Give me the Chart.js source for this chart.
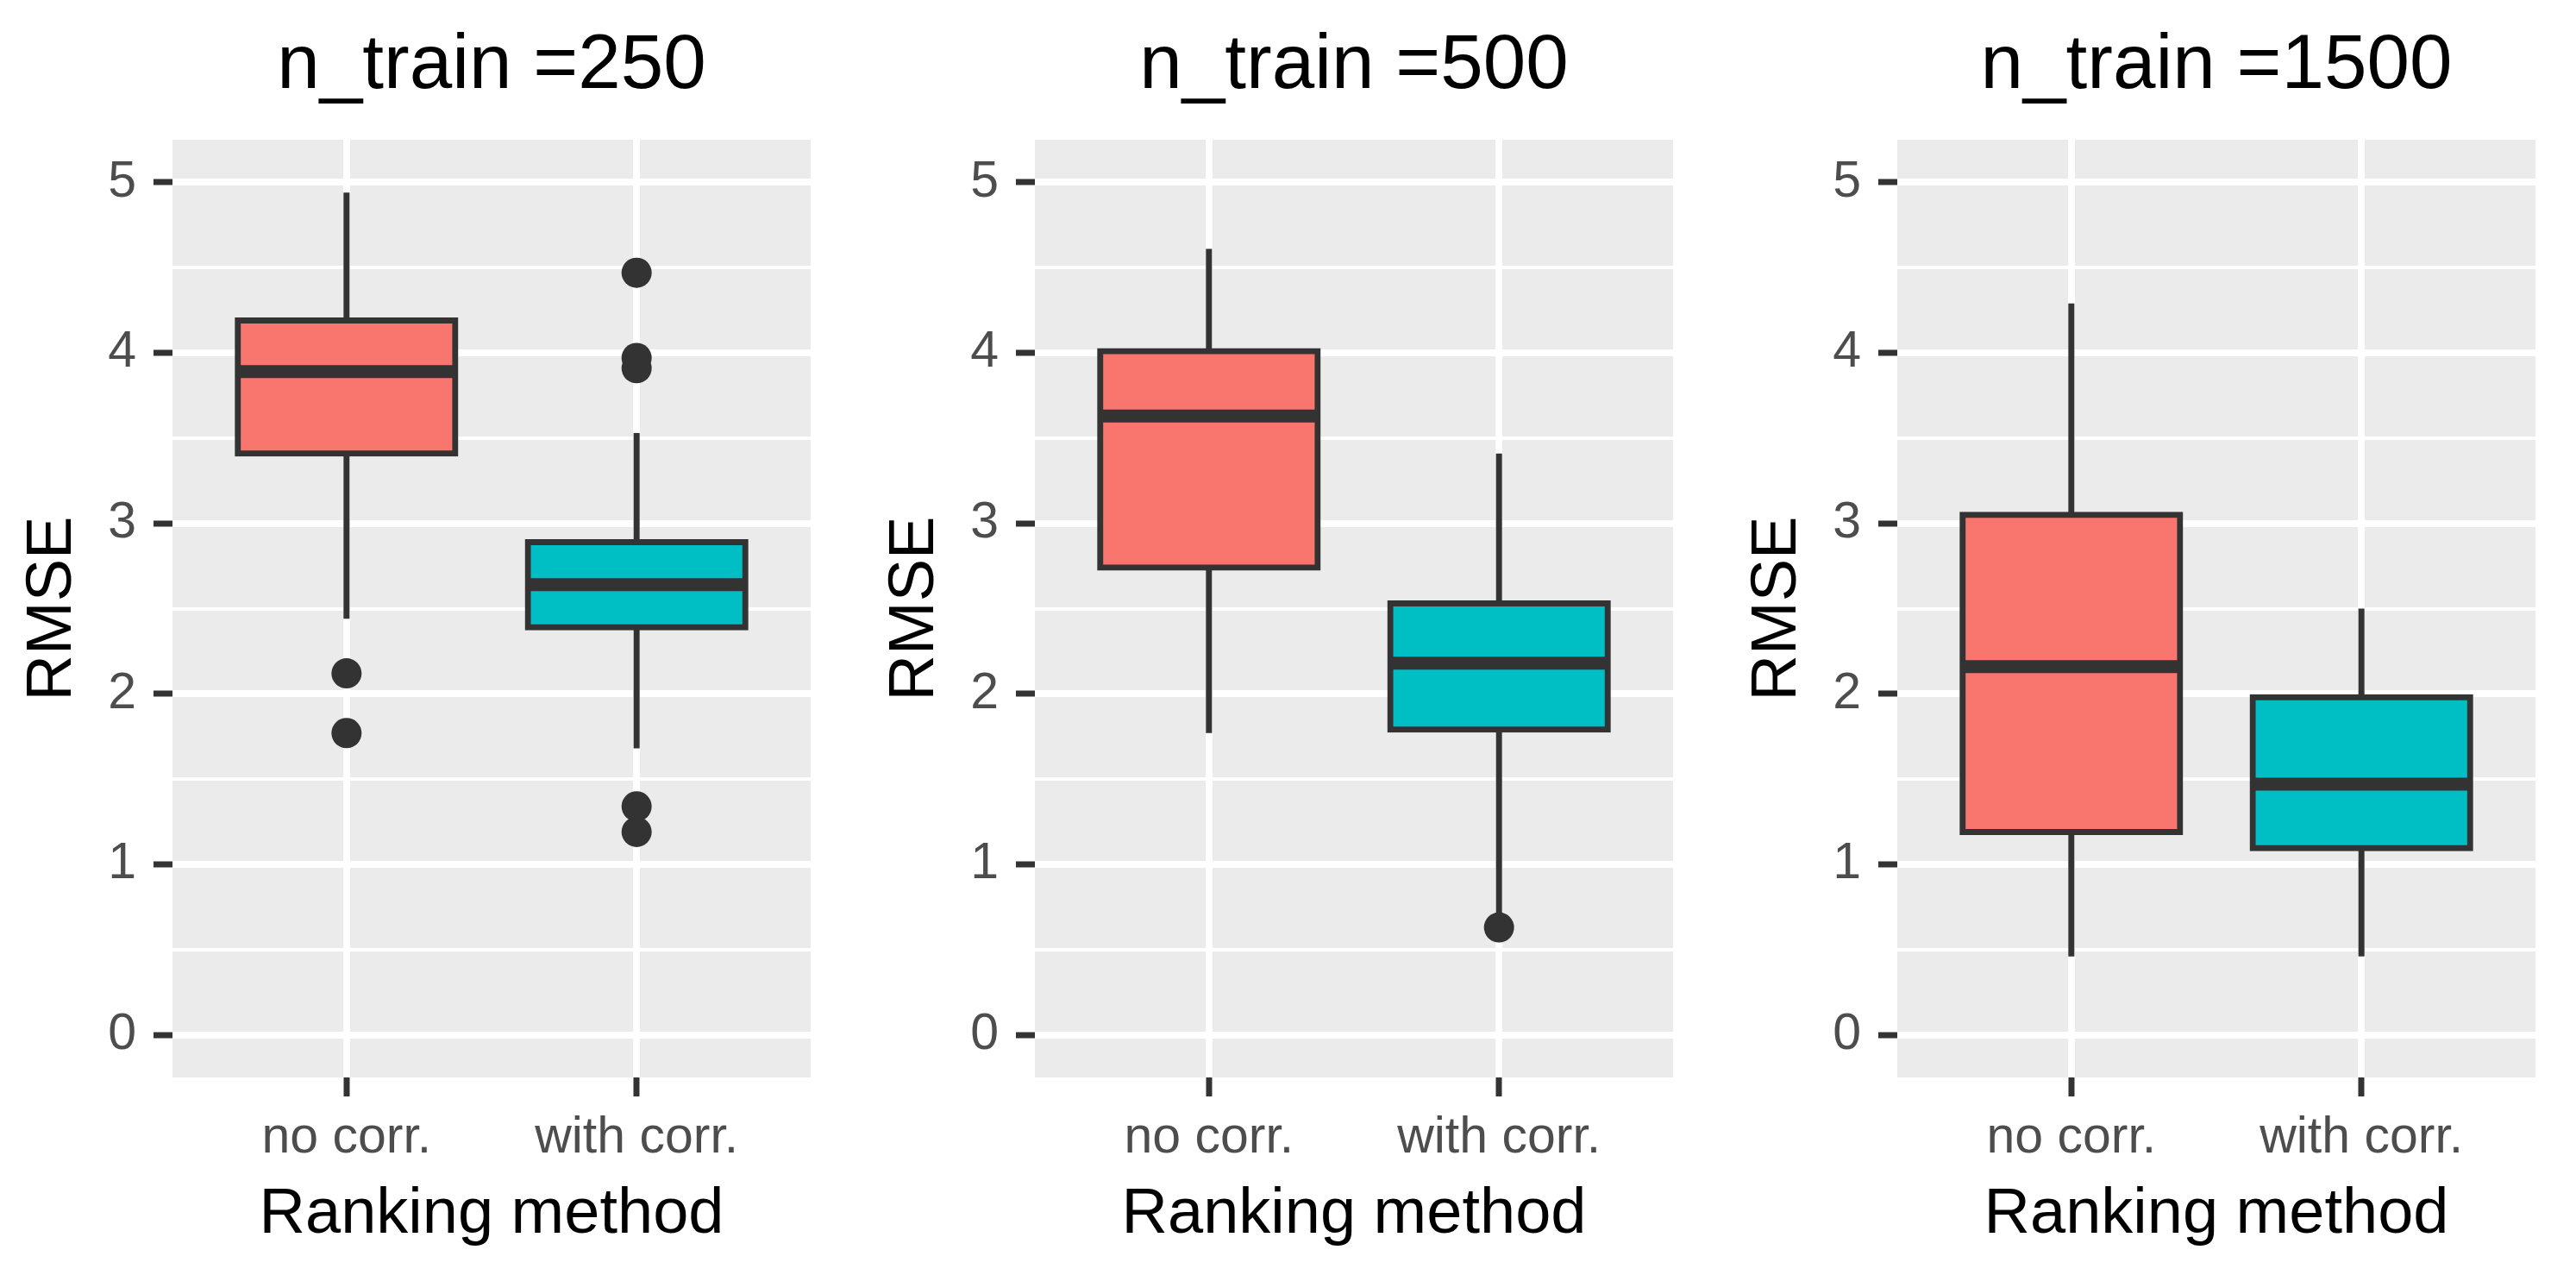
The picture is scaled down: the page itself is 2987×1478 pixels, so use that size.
<!DOCTYPE html>
<html>
<head>
<meta charset="utf-8">
<title>RMSE by ranking method</title>
<script src="https://cdn.jsdelivr.net/npm/chart.js@4.4.1/dist/chart.umd.min.js"></script>
<style>
  html, body { margin: 0; padding: 0; background: #ffffff; overflow: hidden; }
  .panel { position: absolute; top: 0; height: 1478px; }
</style>
</head>
<body>
<div class="panel" id="panel0" style="left:0px;width:1000px"><canvas></canvas></div>
<div class="panel" id="panel1" style="left:1000px;width:1000px"><canvas></canvas></div>
<div class="panel" id="panel2" style="left:2000px;width:987px"><canvas></canvas></div>
<script>
// Values (RMSE), one row per panel, [no corr., with corr.]
const categories = ['no corr.', 'with corr.'];
const panelTitles = ['n_train =250', 'n_train =500', 'n_train =1500'];
const yTicks = [0, 1, 2, 3, 4, 5];

const whiskerLow  = [[2.44, 1.68], [1.77, 0.69], [0.46, 0.46]];
const q1          = [[3.41, 2.39], [2.74, 1.79], [1.19, 1.095]];
const median      = [[3.89, 2.64], [3.63, 2.18], [2.16, 1.47]];
const q3          = [[4.19, 2.89], [4.01, 2.53], [3.05, 1.98]];
const whiskerHigh = [[4.94, 3.53], [4.61, 3.41], [4.29, 2.50]];
const outliers = [
  [[2.12, 1.77], [4.47, 3.97, 3.91, 1.34, 1.19]],
  [[], [0.63]],
  [[], []]
];

const fillColors = ['#F8766D', '#00BFC4'];
const lineColor = '#333333';
const BOX_WIDTH = 0.75;
const FONT = "'Liberation Sans', Arial, sans-serif";

// major grid at the labelled ticks, minor grid halfway between them
const gridValues = [];
yTicks.forEach((v, i) => {
  gridValues.push(v);
  if (i < yTicks.length - 1) gridValues.push((v + yTicks[i + 1]) / 2);
});

const panelBackground = {
  id: 'panelBackground',
  beforeDraw(chart) {
    const a = chart.chartArea;
    const ctx = chart.ctx;
    ctx.save();
    ctx.fillStyle = '#EBEBEB';
    ctx.fillRect(a.left, a.top, a.right - a.left, a.bottom - a.top);
    ctx.restore();
  }
};

function segment(x1, y1, x2, y2, width, order) {
  return {
    type: 'line',
    data: [{x: x1, y: y1}, {x: x2, y: y2}],
    borderColor: lineColor,
    borderWidth: width,
    borderCapStyle: 'butt',
    pointRadius: 0,
    fill: false,
    tension: 0,
    order: order
  };
}

function buildDatasets(p) {
  const datasets = [];
  // boxes as floating bars from q1 to q3
  datasets.push({
    type: 'bar',
    data: categories.map((c, i) => ({x: i + 1, y: [q1[p][i], q3[p][i]]})),
    backgroundColor: fillColors,
    borderColor: lineColor,
    borderWidth: 7,
    borderSkipped: false,
    inflateAmount: 3.5,
    barPercentage: BOX_WIDTH,
    categoryPercentage: 1,
    order: 2
  });
  categories.forEach((c, i) => {
    const x = i + 1;
    datasets.push(segment(x, q3[p][i], x, whiskerHigh[p][i], 7, 3));
    datasets.push(segment(x, whiskerLow[p][i], x, q1[p][i], 7, 3));
    datasets.push(segment(x - BOX_WIDTH / 2, median[p][i], x + BOX_WIDTH / 2, median[p][i], 15, 1));
    if (outliers[p][i].length) {
      datasets.push({
        type: 'line',
        showLine: false,
        data: outliers[p][i].map(v => ({x: x, y: v})),
        pointRadius: 17.5,
        pointBackgroundColor: lineColor,
        pointBorderWidth: 0,
        order: 0
      });
    }
  });
  return datasets;
}

function createPanel(p) {
  const container = document.getElementById('panel' + p);
  const canvas = container.querySelector('canvas');
  const panelWidth = container.offsetWidth;

  new Chart(canvas, {
    type: 'bar',
    data: { datasets: buildDatasets(p) },
    options: {
      responsive: true,
      maintainAspectRatio: false,
      animation: false,
      events: [],
      layout: { padding: { left: 0, right: panelWidth - 940, top: 0, bottom: 0 } },
      plugins: {
        legend: { display: false },
        tooltip: { enabled: false },
        title: {
          display: true,
          text: panelTitles[p],
          fullSize: false,
          color: '#000000',
          font: { family: FONT, size: 89, weight: 'normal', lineHeight: 1.2 },
          padding: { top: 24, bottom: 31.2 }
        }
      },
      scales: {
        x: {
          type: 'linear',
          min: 0.4,
          max: 2.6,
          offset: false,
          afterBuildTicks: scale => { scale.ticks = categories.map((c, i) => ({value: i + 1})); },
          afterFit: scale => { scale.height = 229; },
          border: { display: false },
          grid: {
            offset: false,
            color: '#FFFFFF',
            lineWidth: 8,
            tickColor: lineColor,
            tickWidth: 7,
            tickLength: 22
          },
          ticks: {
            autoSkip: false,
            maxRotation: 0,
            padding: 13,
            color: '#4D4D4D',
            font: { family: FONT, size: 59 },
            callback: value => categories[Math.round(value) - 1]
          },
          title: {
            display: true,
            text: 'Ranking method',
            color: '#000000',
            font: { family: FONT, size: 74, lineHeight: 1.2 },
            padding: { top: 0, bottom: 25 }
          }
        },
        y: {
          type: 'linear',
          min: -0.25,
          max: 5.25,
          afterBuildTicks: scale => { scale.ticks = gridValues.map(v => ({value: v})); },
          afterFit: scale => { scale.width = 200; },
          border: { display: false },
          grid: {
            color: '#FFFFFF',
            lineWidth: ctx => Number.isInteger(ctx.tick.value) ? 8 : 4,
            tickColor: ctx => Number.isInteger(ctx.tick.value) ? lineColor : 'rgba(0,0,0,0)',
            tickWidth: 7,
            tickLength: 22
          },
          ticks: {
            autoSkip: false,
            padding: 20,
            color: '#4D4D4D',
            font: { family: FONT, size: 59 },
            callback: value => yTicks.includes(value) ? String(value) : ''
          },
          title: {
            display: true,
            text: 'RMSE',
            color: '#000000',
            font: { family: FONT, size: 74, lineHeight: 1.2 },
            padding: { top: 17.6, bottom: 0 }
          }
        }
      }
    },
    plugins: [panelBackground]
  });
}

panelTitles.forEach((t, p) => createPanel(p));
</script>
</body>
</html>
